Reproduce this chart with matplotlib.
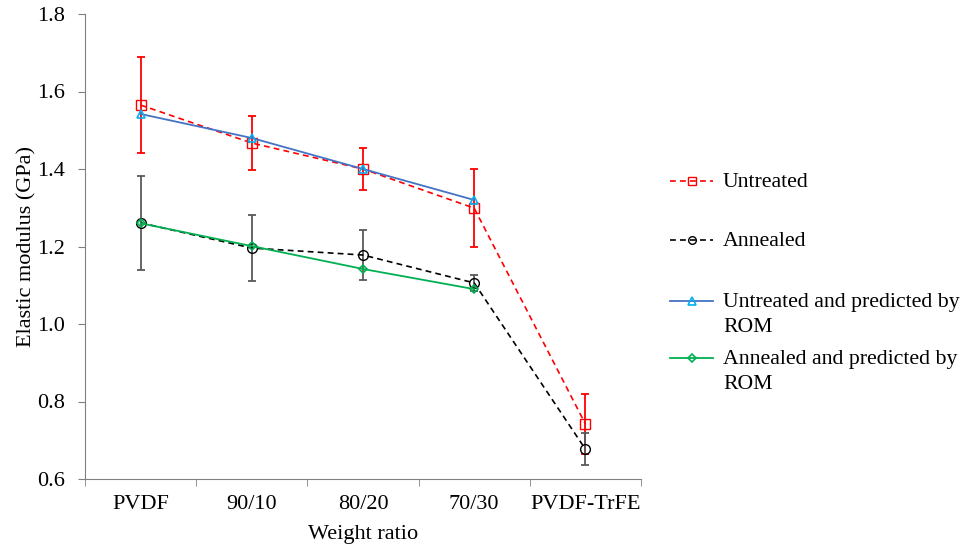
import numpy as np
import matplotlib.pyplot as plt
from matplotlib.lines import Line2D
from matplotlib.ticker import FormatStrFormatter

plt.rcParams['font.family'] = ['Liberation Serif', 'DejaVu Serif']

categories = ['PVDF', '90/10', '80/20', '70/30', 'PVDF-TrFE']

untreated = [1.565, 1.467, 1.400, 1.299, 0.742]
untreated_err = [0.124, 0.070, 0.053, 0.100, 0.077]
annealed = [1.261, 1.196, 1.178, 1.106, 0.677]
annealed_err = [0.121, 0.086, 0.065, 0.020, 0.041]

# rule of mixtures predictions (only for blends + PVDF)
untreated_rom = [1.542, 1.480, 1.400, 1.320]
annealed_rom = [1.260, 1.201, 1.142, 1.090]

labels = ['Untreated', 'Annealed',
          'Untreated and predicted by\nROM', 'Annealed and predicted by\nROM']

W, H = 964, 548
x = np.arange(len(categories))
xr = x[:len(untreated_rom)]

fig = plt.figure(figsize=(W / 100, H / 100), dpi=100)
ax = fig.add_axes([85 / W, 1 - 479 / H, (641 - 85) / W, (479 - 14) / H])

ax.errorbar(x, untreated, yerr=untreated_err, fmt='none', ecolor='#FF0000',
            elinewidth=1.3, capsize=3, capthick=1.3, zorder=2)
ax.errorbar(x, annealed, yerr=annealed_err, fmt='none', ecolor='#595959',
            elinewidth=1.3, capsize=3, capthick=1.3, zorder=2)

l1, = ax.plot(x, untreated, color='#FF0000', ls=(0, (3.5, 2.5)), lw=1.2, marker='s',
              ms=7, mfc='none', mec='#FF0000', mew=1.0, zorder=3)
l2, = ax.plot(x, annealed, color='black', ls=(0, (3.5, 2.5)), lw=1.2, marker='o',
              ms=7, mfc='none', mec='black', mew=1.0, zorder=3)
l3, = ax.plot(xr, untreated_rom, color='#4472C4', lw=1.3, marker='^', ms=6,
              mfc='none', mec='#00B0F0', mew=1.2, zorder=4)
l4, = ax.plot(xr, annealed_rom, color='#00B050', lw=1.3, marker='D', ms=4.5,
              mfc='none', mec='#00B050', mew=1.2, zorder=4)

ax.set_xlim(-0.5, 4.5)
ax.set_ylim(0.6, 1.8)
ax.set_yticks([0.6, 0.8, 1.0, 1.2, 1.4, 1.6, 1.8])
ax.yaxis.set_major_formatter(FormatStrFormatter('%.1f'))
ax.set_xticks(x)
ax.set_xticklabels(categories)
ax.set_xticks(np.arange(-0.5, 5, 1), minor=True)
ax.tick_params(axis='x', which='major', length=0, pad=11.5, labelsize=16)
ax.tick_params(axis='x', which='minor', length=5, color='#808080', direction='out')
ax.tick_params(axis='y', length=5, pad=9.5, color='#808080', labelsize=16)

for s in ['top', 'right']:
    ax.spines[s].set_visible(False)
for s in ['left', 'bottom']:
    ax.spines[s].set_color('#808080')

ax.set_xlabel('Weight ratio', fontsize=16, labelpad=8)
ax.set_ylabel('Elastic modulus (GPa)', fontsize=16, labelpad=0.5)

# legend on the right, handle lined up with the first text line (like Excel)
baselines = [187, 246, 307, 364]
for line, lab, b in zip([l1, l2, l3, l4], labels, baselines):
    yc = 1 - (b - 6) / H
    h = Line2D([670 / W, 692 / W, 713 / W], [yc] * 3)
    h.update_from(line)
    h.set_transform(fig.transFigure)
    h.set_clip_on(False)
    h.set_markevery([1])
    if line.get_marker() in ('s', 'o'):
        h.set_markersize(5.5)
    fig.add_artist(h)
    for i, part in enumerate(lab.split('\n')):
        fig.text(723 / W, 1 - (b + i * 25) / H, part, fontsize=15.7, va='baseline')

plt.savefig('out.png', dpi=100)
